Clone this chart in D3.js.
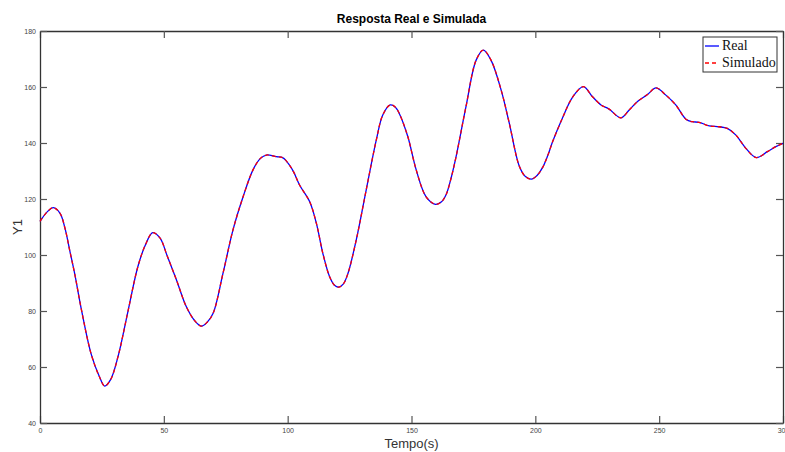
<!DOCTYPE html>
<html>
<head>
<meta charset="utf-8">
<script src="https://cdn.jsdelivr.net/npm/d3@7"></script>
<style>
  body { margin: 0; background: #fff; }
  svg { display: block; }
</style>
</head>
<body>
<svg id="chart"></svg>
<script>
// time samples (s)
var tempo = [0, 3, 5.4, 8.1, 10.1, 12.1, 14.1, 16.7, 20.7, 24, 26.1, 28.5, 31.5, 35.5, 39.5, 42.5, 45.5, 48.5,
  51.3, 55.1, 59.1, 62.5, 65.2, 67.5, 69.9, 73.9, 77.9, 82, 86, 89, 91.4, 95.4, 98.1, 100.8,
  102.5, 104.8, 108.9, 111.6, 114.2, 116.9, 118.8, 120.6, 122.5, 124.3, 127.7, 131.7, 135.8, 138.4,
  141.4, 143.5, 145.2, 148.5, 151.9, 155.9, 159.7, 162, 164, 166, 168, 172, 176.1, 179, 182.1, 186.2,
  189.5, 193.5, 196, 198.4, 200.7, 202.9, 205, 207, 211, 215, 219.4, 223.1, 226.5, 229.8, 234.5, 237.9,
  241.5, 245.3, 248.7, 252.7, 256.7, 260.8, 263.4, 266.1, 270.2, 274.2, 277.5, 280.9, 285, 289.2,
  293.7, 297.1, 300];

var realY = [112.0, 115.5, 116.9, 114.9, 109.5, 101.2, 92.9, 80.6, 64.5, 56.5, 53.2, 55.5, 63.7, 79.8, 95.8, 103.5, 108.0, 106.0,
  99.8, 91.1, 81.5, 76.5, 74.6, 76.0, 79.2, 93.5, 108.9, 120.8, 130.4, 134.5, 135.7, 135.1, 134.7, 132.0,
  129.5, 125.0, 119.0, 111.3, 100.6, 92.3, 89.3, 88.5, 89.7, 93.3, 105.4, 123.2, 141.1, 150.0,
  153.6, 152.8, 150.3, 142.3, 130.4, 120.8, 118.1, 118.9, 121.6, 127.5, 135.1, 153.0, 169.6, 173.2, 169.6, 158.9,
  147.0, 131.8, 128.0, 127.1, 128.4, 131.2, 135.5, 140.5, 149.0, 156.3, 160.1, 156.5, 153.6, 152.1, 149.0, 151.8,
  155.0, 157.3, 159.7, 157.1, 153.6, 148.5, 147.6, 147.4, 146.1, 145.8, 145.2, 142.9, 138.1, 134.8,
  136.9, 138.7, 139.9];

var simY = [112.0, 115.5, 116.9, 114.9, 109.5, 101.2, 92.9, 80.6, 64.5, 56.5, 53.2, 55.5, 63.7, 79.8, 95.8, 103.5, 108.0, 106.0,
  99.8, 91.1, 81.5, 76.5, 74.6, 76.0, 79.2, 93.5, 108.9, 120.8, 130.4, 134.5, 135.7, 135.1, 134.7, 132.0,
  129.5, 125.0, 119.0, 111.3, 100.6, 92.3, 89.3, 88.5, 89.7, 93.3, 105.4, 123.2, 141.1, 150.0,
  153.6, 152.8, 150.3, 142.3, 130.4, 120.8, 118.1, 118.9, 121.6, 127.5, 135.1, 153.0, 169.6, 173.2, 169.6, 158.9,
  147.0, 131.8, 128.0, 127.1, 128.4, 131.2, 135.5, 140.5, 149.0, 156.3, 160.1, 156.5, 153.6, 152.1, 149.0, 151.8,
  155.0, 157.3, 159.7, 157.1, 153.6, 148.5, 147.6, 147.4, 146.1, 145.8, 145.2, 142.9, 138.1, 134.8,
  136.9, 138.7, 139.9];

var xTicks = [0, 50, 100, 150, 200, 250, 300];
var yTicks = [40, 60, 80, 100, 120, 140, 160, 180];
var seriesNames = ["Real", "Simulado"];

var width = 785, height = 452;
var margin = {top: 31, right: 2, bottom: 29, left: 40};
var innerW = width - margin.left - margin.right,
    innerH = height - margin.top - margin.bottom;

var svg = d3.select("#chart")
    .attr("width", width)
    .attr("height", height);

var x = d3.scaleLinear().domain([0, 300]).range([0, innerW]);
var y = d3.scaleLinear().domain([40, 180]).range([innerH, 0]);

var g = svg.append("g")
    .attr("transform", "translate(" + margin.left + "," + margin.top + ")");

var axisColor = "#333";
var tickLen = 7;

// bottom axis with labels, inward ticks
var xAxis = g.append("g")
    .attr("transform", "translate(0," + innerH + ")")
    .call(d3.axisBottom(x).tickValues(xTicks).tickSizeInner(-tickLen).tickSizeOuter(0).tickPadding(5));
// top axis, ticks only
var xTop = g.append("g")
    .call(d3.axisTop(x).tickValues(xTicks).tickSizeInner(-tickLen).tickSizeOuter(0).tickFormat(""));
var yAxis = g.append("g")
    .call(d3.axisLeft(y).tickValues(yTicks).tickSizeInner(-tickLen).tickSizeOuter(0).tickPadding(4));
var yRight = g.append("g")
    .attr("transform", "translate(" + innerW + ",0)")
    .call(d3.axisRight(y).tickValues(yTicks).tickSizeInner(-tickLen).tickSizeOuter(0).tickFormat(""));

[xAxis, xTop, yAxis, yRight].forEach(function(a) {
  a.select(".domain").attr("stroke", axisColor).attr("stroke-width", 1.3);
  a.selectAll(".tick line").attr("stroke", "#555").attr("stroke-width", 1.2);
  a.selectAll(".tick text")
    .attr("fill", "#444")
    .style("font-family", "Liberation Sans, Arial, sans-serif")
    .style("font-size", "7px");
});

var line = d3.line()
    .x(function(d) { return x(d[0]); })
    .y(function(d) { return y(d[1]); })
    .curve(d3.curveCatmullRom.alpha(0.5));

var realData = tempo.map(function(t, i) { return [t, realY[i]]; });
var simData = tempo.map(function(t, i) { return [t, simY[i]]; });

g.append("path")
    .datum(realData)
    .attr("fill", "none")
    .attr("stroke", "#0000ff")
    .attr("stroke-width", 1.3)
    .attr("d", line);

g.append("path")
    .datum(simData)
    .attr("fill", "none")
    .attr("stroke", "#ff0000")
    .attr("stroke-width", 1.3)
    .attr("stroke-dasharray", "4,3")
    .attr("d", line);

// title and axis labels
svg.append("text")
    .attr("x", margin.left + innerW / 2)
    .attr("y", 23)
    .attr("text-anchor", "middle")
    .style("font-family", "Liberation Sans, Arial, sans-serif")
    .style("font-size", "12px")
    .style("font-weight", "bold")
    .text("Resposta Real e Simulada");

svg.append("text")
    .attr("x", margin.left + innerW / 2)
    .attr("y", 448)
    .attr("text-anchor", "middle")
    .attr("fill", "#333")
    .style("font-family", "Liberation Sans, Arial, sans-serif")
    .style("font-size", "13px")
    .text("Tempo(s)");

svg.append("text")
    .attr("transform", "translate(22," + (margin.top + innerH / 2) + ") rotate(-90)")
    .attr("text-anchor", "middle")
    .attr("fill", "#333")
    .style("font-family", "Liberation Sans, Arial, sans-serif")
    .style("font-size", "13px")
    .text("Y1");

// legend
var legend = svg.append("g").attr("transform", "translate(703,37)");
legend.append("rect")
    .attr("width", 74).attr("height", 35)
    .attr("fill", "#fff")
    .attr("stroke", "#333")
    .attr("stroke-width", 1);
var colors = ["#0000ff", "#ff0000"];
seriesNames.forEach(function(name, i) {
  var yy = 9 + i * 17;
  legend.append("line")
      .attr("x1", 2).attr("x2", 16)
      .attr("y1", yy).attr("y2", yy)
      .attr("stroke", colors[i])
      .attr("stroke-width", 1.3)
      .attr("stroke-dasharray", i === 1 ? "4,3" : null);
  legend.append("text")
      .attr("x", 19).attr("y", yy + 4)
      .style("font-family", "Liberation Serif, Times New Roman, serif")
      .style("font-size", "14px")
      .attr("fill", "#111")
      .text(name);
});
</script>
</body>
</html>
